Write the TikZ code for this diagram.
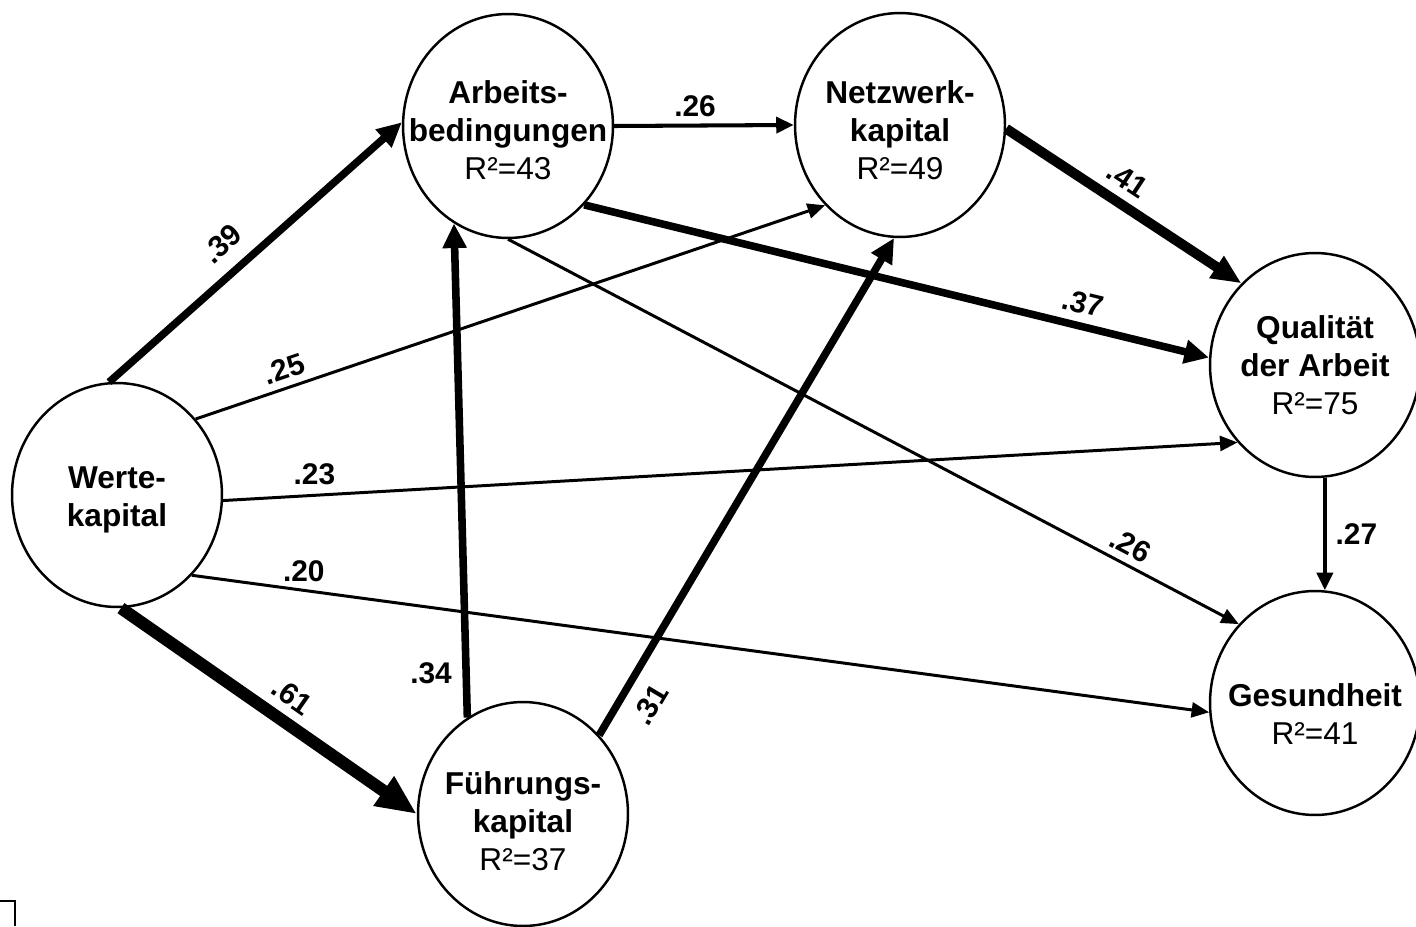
\documentclass[tikz,border=0pt]{standalone}
\usepackage{fontspec}
\setmainfont{Liberation Sans}
\usetikzlibrary{shapes.geometric,arrows.meta}
\tikzset{
	lat/.style={ellipse,draw,line width=1.4pt,minimum width=4.2cm,minimum height=4.48cm,inner sep=0pt},
	txt/.style={align=center,inner sep=0pt,font=\fontsize{18}{21.5}\selectfont},
	coef/.style={font=\bfseries\fontsize{17}{19}\selectfont,inner sep=2pt},
	weak/.style={line width=1.7pt,-{Triangle[length=10pt,width=8.5pt]}},
	medium/.style={line width=2.3pt,-{Triangle[length=10pt,width=9pt]}},
	strong/.style={line width=4.3pt,-{Triangle[length=14pt,width=13pt]}},
	stronger/.style={line width=5.7pt,-{Triangle[length=17pt,width=14pt]}},
	strongest/.style={line width=7pt,-{Triangle[length=23pt,width=19pt]}}
}
\begin{document}
\begin{tikzpicture}[x=0.02cm,y=-0.02cm]
		\useasboundingbox (0,0) rectangle (1416,926);
		% latent variables
		\node[lat,label={[txt,yshift=-0.1cm]center:\textbf{Werte-}\\\textbf{kapital}}] (werte) at (117,495) {};
		\node[lat,label={[txt,yshift=-0.08cm]center:\textbf{Arbeits-}\\\textbf{bedingungen}\\R²=43}] (arbeit) at (508,126) {};
		\node[lat,label={[txt,yshift=-0.1cm]center:\textbf{Netzwerk-}\\\textbf{kapital}\\R²=49}] (netz) at (900,125) {};
		\node[lat,label={[txt]center:\textbf{Qualität}\\\textbf{der Arbeit}\\R²=75}] (quali) at (1315,365) {};
		\node[lat,label={[txt,yshift=-0.22cm]center:\textbf{Gesundheit}\\R²=41}] (gesund) at (1315,703) {};
		\node[lat,label={[txt,yshift=-0.14cm]center:\textbf{Führungs-}\\\textbf{kapital}\\R²=37}] (fuehr) at (523,814) {};
		% paths from Wertekapital
		\draw[strong] (werte.94) -- node[coef,sloped,above=6pt,pos=.45] {.39} (arbeit.178);
		\draw[weak] (werte.44) -- node[coef,sloped,above=2pt,pos=.15] {.25} (netz.-133);
		\draw[weak] (werte.-3) -- node[coef,above=3pt,pos=.09] {.23} (quali.-135);
		\draw[weak] (werte.-47) -- node[coef,above=2pt,pos=.11] {.20} (gesund.-175);
		\draw[strongest] (werte.-88) -- node[coef,sloped,above=3pt,pos=.53] {.61} (fuehr.180);
		% paths from Arbeitsbedingungen
		\draw[medium] (arbeit.east) -- node[coef,above=2pt,pos=.45] {.26} (netz.west);
		\draw[strong] (arbeit.-46) -- node[coef,sloped,above=3pt,pos=.79] {.37} (quali.176);
		\draw[weak] (arbeit.south) -- node[coef,sloped,above=2pt,pos=.84] {.26} (gesund.134);
		% paths from Netzwerkkapital, Qualitaet, Fuehrungskapital
		\draw[stronger] (netz.-2) -- node[coef,sloped,above=3pt,pos=.46] {.41} (quali.132);
		\draw[medium] (quali.-85) -- node[coef,right=3pt] {.27} (gesund.85);
		\draw[strong] (fuehr.120) -- node[coef,left=4pt,pos=.09] {.34} (arbeit.-119);
		\draw[strong] (fuehr.46) -- node[coef,sloped,below=6pt,pos=.09] {.31} (netz.-93);
		% corner mark
		\draw[line width=1.2pt] (0,901) -- (15,901) -- (15,926);
	\end{tikzpicture}
\end{document}
